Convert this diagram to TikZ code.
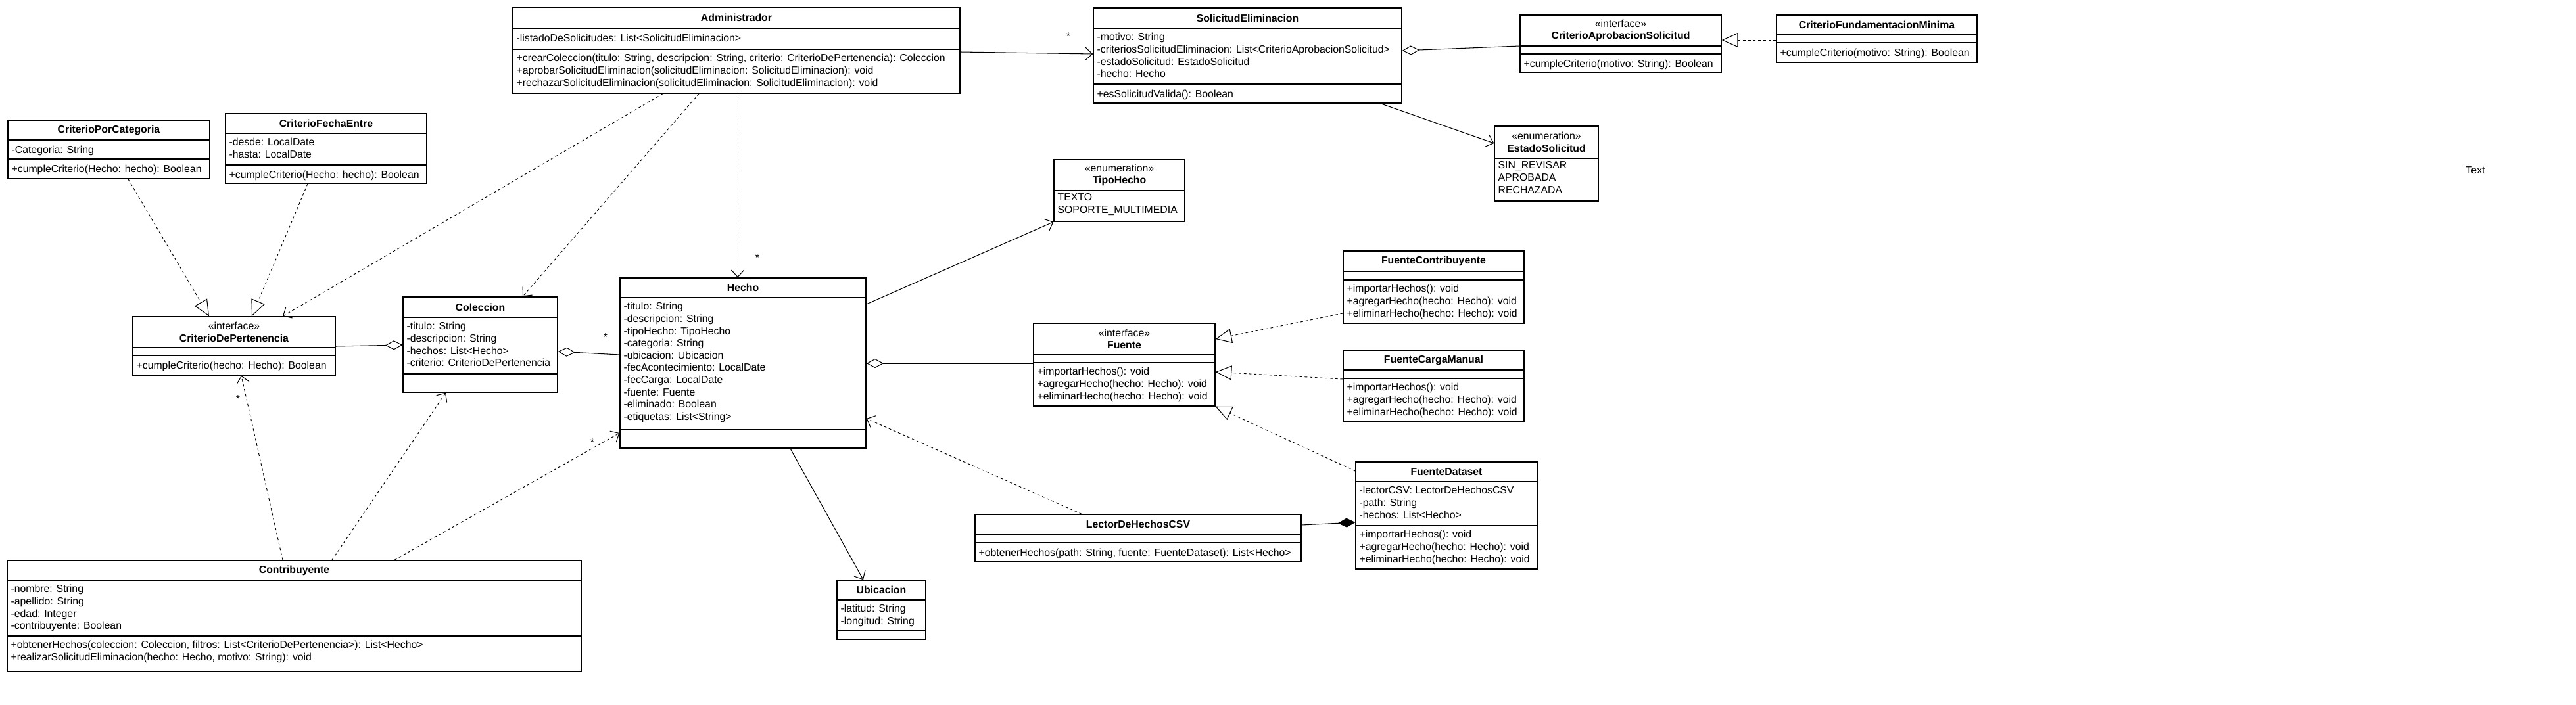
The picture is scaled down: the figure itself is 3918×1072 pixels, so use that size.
\documentclass[tikz,border=0pt]{standalone}
\usepackage{fontspec}
\setmainfont{Liberation Sans}
\usetikzlibrary{fit,arrows.meta}

\newcommand{\umlfont}{\fontsize{9}{10.6}\selectfont}
% class box: name, x1, y1, x2, y2, first rule, second rule, header
\newcommand{\umlbox}[8]{%
  \node[classbox, fit={(#2,#3) (#4,#5)}] (#1) {};
  \node[align=center] at ({(#2+#4)/2},{(#3+#6)/2}) {#8};
  \draw[boxline] (#2,#6) -- (#4,#6);
  \draw[boxline] (#2,#7) -- (#4,#7);
}

\begin{document}
\begin{tikzpicture}[x=0.02cm, y=-0.02cm, font=\umlfont,
    classbox/.style={draw, fill=white, inner sep=0pt, line width=0.8pt},
    boxline/.style={line width=0.8pt},
    members/.style={anchor=north west, align=left, inner xsep=3pt, inner ysep=4pt,
      execute at begin node=\strut},
    literals/.style={members, inner ysep=2.5pt},
    realiz/.style={dash pattern=on 2.2pt off 2.2pt, line width=0.55pt, -{Triangle[open, length=14pt, width=12.5pt, line width=0.6pt]}},
    depend/.style={dash pattern=on 2.2pt off 2.2pt, line width=0.55pt, -{Straight Barb[length=6pt, width=11pt, line width=0.6pt]}},
    assoc/.style={line width=0.6pt, -{Straight Barb[length=6pt, width=11pt]}},
    aggr/.style={line width=0.6pt, {Diamond[open, length=15pt, width=8pt]}-},
    compos/.style={line width=0.6pt, {Diamond[length=15pt, width=8pt]}-},
    mult/.style={inner sep=1pt}]
  \fill[white] (0,0) rectangle (3918,1072);
  \useasboundingbox (0,0) rectangle (3918,1072);

  % criterios de pertenencia
  \umlbox{CriterioPorCategoria}{12}{183}{319}{272}{213}{242}{\textbf{CriterioPorCategoria}}
  \node[members] at (12,213) {-Categoria: String};
  \node[members] at (12,242) {+cumpleCriterio(Hecho: hecho): Boolean};

  \umlbox{CriterioFechaEntre}{343}{173}{649}{279}{203}{251}{\textbf{CriterioFechaEntre}}
  \node[members] at (343,203) {-desde: LocalDate\\-hasta: LocalDate};
  \node[members] at (343,251) {+cumpleCriterio(Hecho: hecho): Boolean};

  \umlbox{CriterioDePertenencia}{202}{482}{510}{571}{529}{541}{«interface»\\\textbf{CriterioDePertenencia}}
  \node[members] at (202,541) {+cumpleCriterio(hecho: Hecho): Boolean};

  % administrador y solicitudes
  \umlbox{Administrador}{780}{11}{1460}{142}{43}{75}{\textbf{Administrador}}
  \node[members] at (780,43) {-listadoDeSolicitudes: List<SolicitudEliminacion>};
  \node[members] at (780,75) {+crearColeccion(titulo: String, descripcion: String, criterio: CriterioDePertenencia): Coleccion\\+aprobarSolicitudEliminacion(solicitudEliminacion: SolicitudEliminacion): void\\+rechazarSolicitudEliminacion(solicitudEliminacion: SolicitudEliminacion): void};

  \umlbox{SolicitudEliminacion}{1663}{12}{2132}{157}{43}{128}{\textbf{SolicitudEliminacion}}
  \node[members] at (1663,43) {-motivo: String\\-criteriosSolicitudEliminacion: List<CriterioAprobacionSolicitud>\\-estadoSolicitud: EstadoSolicitud\\-hecho: Hecho};
  \node[members] at (1663,128) {+esSolicitudValida(): Boolean};

  \umlbox{CriterioAprobacionSolicitud}{2312}{23}{2618}{110}{70}{82}{«interface»\\\textbf{CriterioAprobacionSolicitud}}
  \node[members] at (2312,82) {+cumpleCriterio(motivo: String): Boolean};

  \umlbox{CriterioFundamentacionMinima}{2702}{23}{3007}{95}{53}{65}{\textbf{CriterioFundamentacionMinima}}
  \node[members] at (2702,65) {+cumpleCriterio(motivo: String): Boolean};

  \umlbox{EstadoSolicitud}{2273}{192}{2431}{306}{241}{306}{«enumeration»\\\textbf{EstadoSolicitud}}
  \node[literals] at (2273,241) {SIN\_REVISAR\\APROBADA\\RECHAZADA};

  % hechos
  \umlbox{TipoHecho}{1603}{243}{1802}{337}{290}{337}{«enumeration»\\\textbf{TipoHecho}}
  \node[literals] at (1603,290) {TEXTO\\SOPORTE\_MULTIMEDIA};

  \umlbox{Coleccion}{613}{452}{848}{597}{483}{569}{\textbf{Coleccion}}
  \node[members] at (613,483) {-titulo: String\\-descripcion: String\\-hechos: List<Hecho>\\-criterio: CriterioDePertenencia};

  \umlbox{Hecho}{943}{423}{1317}{682}{453}{654}{\textbf{Hecho}}
  \node[members] at (943,453) {-titulo: String\\-descripcion: String\\-tipoHecho: TipoHecho\\-categoria: String\\-ubicacion: Ubicacion\\-fecAcontecimiento: LocalDate\\-fecCarga: LocalDate\\-fuente: Fuente\\-eliminado: Boolean\\-etiquetas: List<String>};

  \umlbox{Ubicacion}{1273}{883}{1408}{973}{913}{960}{\textbf{Ubicacion}}
  \node[members] at (1273,913) {-latitud: String\\-longitud: String};

  % fuentes
  \umlbox{Fuente}{1572}{492}{1848}{618}{540}{552}{«interface»\\\textbf{Fuente}}
  \node[members] at (1572,552) {+importarHechos(): void\\+agregarHecho(hecho: Hecho): void\\+eliminarHecho(hecho: Hecho): void};

  \umlbox{FuenteContribuyente}{2043}{382}{2318}{492}{413}{426}{\textbf{FuenteContribuyente}}
  \node[members] at (2043,426) {+importarHechos(): void\\+agregarHecho(hecho: Hecho): void\\+eliminarHecho(hecho: Hecho): void};

  \umlbox{FuenteCargaManual}{2043}{533}{2318}{642}{563}{576}{\textbf{FuenteCargaManual}}
  \node[members] at (2043,576) {+importarHechos(): void\\+agregarHecho(hecho: Hecho): void\\+eliminarHecho(hecho: Hecho): void};

  \umlbox{FuenteDataset}{2062}{703}{2338}{866}{733}{800}{\textbf{FuenteDataset}}
  \node[members] at (2062,733) {-lectorCSV: LectorDeHechosCSV\\-path: String\\-hechos: List<Hecho>};
  \node[members] at (2062,800) {+importarHechos(): void\\+agregarHecho(hecho: Hecho): void\\+eliminarHecho(hecho: Hecho): void};

  \umlbox{LectorDeHechosCSV}{1483}{783}{1979}{855}{813}{826}{\textbf{LectorDeHechosCSV}}
  \node[members] at (1483,826) {+obtenerHechos(path: String, fuente: FuenteDataset): List<Hecho>};

  \umlbox{Contribuyente}{11}{853}{884}{1022}{883}{968}{\textbf{Contribuyente}}
  \node[members] at (11,883) {-nombre: String\\-apellido: String\\-edad: Integer\\-contribuyente: Boolean};
  \node[members] at (11,968) {+obtenerHechos(coleccion: Coleccion, filtros: List<CriterioDePertenencia>): List<Hecho>\\+realizarSolicitudEliminacion(hecho: Hecho, motivo: String): void};

  \node (nota) at (3765,259) {Text};

  % relaciones
  \draw[assoc] (Administrador.east |- 0,79) -- (SolicitudEliminacion.west |- 0,82);
  \node[mult] at (1625,55) {*};
  \draw[assoc] (SolicitudEliminacion.south -| 2100,0) -- (EstadoSolicitud.west |- 0,218);
  \draw[aggr] (SolicitudEliminacion.east |- 0,77) -- (CriterioAprobacionSolicitud.west |- 0,70);
  \draw[realiz] (CriterioFundamentacionMinima.west |- 0,61) -- (CriterioAprobacionSolicitud.east |- 0,61);

  \draw[depend] (Administrador.south -| 1008,0) -- (CriterioDePertenencia.north -| 430,0);
  \draw[depend] (Administrador.south -| 1063,0) -- (Coleccion.north -| 795,0);
  \draw[depend] (Administrador.south -| 1122,0) -- (Hecho.north -| 1122,0);
  \node[mult] at (1152,392) {*};

  \draw[realiz] (CriterioPorCategoria.south -| 195,0) -- (CriterioDePertenencia.north -| 318,0);
  \draw[realiz] (CriterioFechaEntre.south -| 468,0) -- (CriterioDePertenencia.north -| 383,0);
  \draw[aggr] (Coleccion.west |- 0,525) -- (CriterioDePertenencia.east |- 0,527);
  \draw[aggr] (Coleccion.east |- 0,535) -- (Hecho.west |- 0,540);
  \node[mult] at (921,513) {*};

  \draw[depend] (Contribuyente.north -| 430,0) -- (CriterioDePertenencia.south -| 367,0);
  \node[mult] at (362,607) {*};
  \draw[depend] (Contribuyente.north -| 505,0) -- (Coleccion.south -| 678,0);
  \draw[depend] (Contribuyente.north -| 600,0) -- (Hecho.west |- 0,659);
  \node[mult] at (901,673) {*};

  \draw[assoc] (Hecho.east |- 0,463) -- (TipoHecho.south west);
  \draw[assoc] (Hecho.south -| 1202,0) -- (Ubicacion.north -| 1313,0);
  \draw[aggr] (Hecho.east |- 0,553) -- (Fuente.west |- 0,553);

  \draw[realiz] (FuenteContribuyente.west |- 0,477) -- (Fuente.east |- 0,516);
  \draw[realiz] (FuenteCargaManual.west |- 0,577) -- (Fuente.east |- 0,566);
  \draw[realiz] (FuenteDataset.west |- 0,717) -- (Fuente.south east);
  \draw[depend] (LectorDeHechosCSV.north -| 1645,0) -- (Hecho.east |- 0,637);
  \draw[compos] (FuenteDataset.west |- 0,795) -- (LectorDeHechosCSV.east |- 0,799);
\end{tikzpicture}
\end{document}
